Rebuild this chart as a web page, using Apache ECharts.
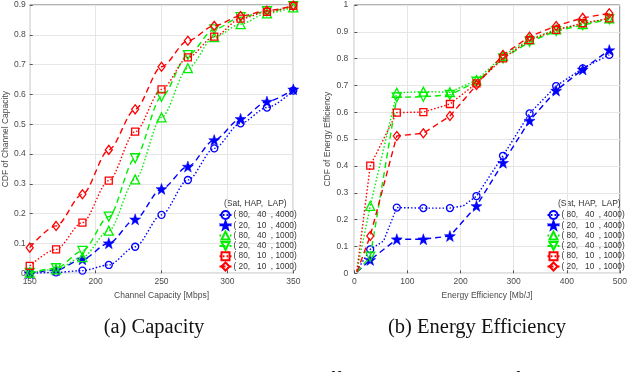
<!DOCTYPE html>
<html>
<head>
<meta charset="utf-8">
<script src="https://cdn.jsdelivr.net/npm/echarts@6/dist/echarts.min.js"></script>
<style>
html,body{margin:0;padding:0;background:#fff;}
#c{width:630px;height:372px;}
</style>
</head>
<body>
<div id="c"></div>
<script>
// ---------- data ----------
const legendNames = ['( 80,   40  , 4000)', '( 20,   10  , 4000)', '( 80,   40  , 1000)', '( 20,   40  , 1000)', '( 80,   10  , 1000)', '( 20,   10  , 1000)'];
const legendTitle = '(Sat, HAP,  LAP)';

// (a) Capacity
const capX = [150, 170, 190, 210, 230, 250, 270, 290, 310, 330, 350];
const capCircle  = [0.000, 0.003, 0.009, 0.028, 0.089, 0.196, 0.313, 0.419, 0.503, 0.556, 0.613];
const capStar    = [0.000, 0.011, 0.047, 0.101, 0.181, 0.283, 0.358, 0.447, 0.518, 0.576, 0.617];
const capTriUp   = [0.002, 0.013, 0.054, 0.143, 0.315, 0.523, 0.688, 0.792, 0.836, 0.872, 0.892];
const capTriDown = [0.001, 0.017, 0.075, 0.190, 0.386, 0.592, 0.732, 0.818, 0.859, 0.879, 0.896];
const capSquare  = [0.025, 0.080, 0.170, 0.311, 0.475, 0.617, 0.724, 0.794, 0.854, 0.877, 0.897];
const capDiamond = [0.086, 0.159, 0.265, 0.414, 0.550, 0.693, 0.780, 0.830, 0.863, 0.881, 0.898];

// (b) Energy efficiency
const eeMarkX   = [30, 80, 130, 180, 230, 280, 330, 380, 430, 480];
const eeX       = [5, 30, 80, 130, 180, 230, 280, 330, 380, 430, 480];
const eeCircleX = [5, 30, 55, 80, 130, 180, 205, 230, 280, 330, 380, 430, 480];
const eeCircle  = [0.010, 0.089, 0.120, 0.245, 0.243, 0.243, 0.251, 0.288, 0.438, 0.596, 0.698, 0.764, 0.814];
const eeStar    = [0.005, 0.050, 0.127, 0.127, 0.139, 0.251, 0.412, 0.569, 0.681, 0.760, 0.832];
const eeTriUp   = [0.010, 0.251, 0.673, 0.677, 0.675, 0.720, 0.810, 0.872, 0.909, 0.929, 0.950];
const eeTriDown = [0.005, 0.062, 0.656, 0.658, 0.665, 0.714, 0.801, 0.863, 0.903, 0.925, 0.947];
const eeSquare  = [0.010, 0.401, 0.599, 0.601, 0.631, 0.708, 0.801, 0.869, 0.907, 0.932, 0.950];
const eeDiamond = [0.005, 0.139, 0.512, 0.522, 0.586, 0.702, 0.814, 0.882, 0.922, 0.952, 0.969];

const capXTicks = {min: 150, max: 350, interval: 50};
const eeXTicks = {min: 0, max: 500, interval: 100};

// ---------- styles ----------
const BLUE = '#0000ff', GREEN = '#00ee00', RED = '#ff0000';
const STAR = 'path://M0,-10L2.35,-3.24L9.51,-3.09L3.8,1.24L5.88,8.09L0,4L-5.88,8.09L-3.8,1.24L-9.51,-3.09L-2.35,-3.24Z';
const DOT = [1.5, 2];
const DASH = [6, 4];
const styles = [
  {color: BLUE,  symbol: 'circle',   size: 7,  rotate: 0,   fill: false, dash: DOT},
  {color: BLUE,  symbol: STAR,       size: 11, rotate: 0,   fill: true,  dash: DASH},
  {color: GREEN, symbol: 'triangle', size: 9,  rotate: 0,   fill: false, dash: DOT},
  {color: GREEN, symbol: 'triangle', size: 9,  rotate: 180, fill: false, dash: DASH},
  {color: RED,   symbol: 'rect',     size: 7,  rotate: 0,   fill: false, dash: DOT},
  {color: RED,   symbol: 'diamond',  size: [7, 9], rotate: 0, fill: false, dash: DASH}
];

const FONT = 'Liberation Sans, Arial, sans-serif';
const TXT = '#4a4a4a';

function pairs(xs, ys) { return xs.map((x, i) => [x, ys[i]]); }

function mkSeries(i, idx, data, smooth, markXs) {
  const s = styles[i];
  return {
    type: 'line',
    name: legendNames[i],
    xAxisIndex: idx, yAxisIndex: idx,
    data: data,
    smooth: smooth,
    smoothMonotone: 'x',
    symbol: markXs ? (v => markXs.includes(v[0]) ? s.symbol : 'none') : s.symbol,
    symbolSize: s.size,
    symbolRotate: s.rotate,
    showAllSymbol: true,
    lineStyle: {color: s.color, width: 1.4, type: s.dash},
    itemStyle: {color: s.fill ? s.color : 'rgba(255,255,255,0)', borderColor: s.color, borderWidth: s.fill ? 0.5 : 1.3},
    emphasis: {disabled: true},
    animation: false,
    z: 3 + i
  };
}

const series = [];
const capSets = [capCircle, capStar, capTriUp, capTriDown, capSquare, capDiamond];
capSets.forEach((ys, i) => series.push(mkSeries(i, 0, pairs(capX, ys), 0.3, null)));
const eeSets = [pairs(eeCircleX, eeCircle), pairs(eeX, eeStar), pairs(eeX, eeTriUp), pairs(eeX, eeTriDown), pairs(eeX, eeSquare), pairs(eeX, eeDiamond)];
eeSets.forEach((d, i) => series.push(mkSeries(i, 1, d, false, eeMarkX)));

function xAx(idx, t, name) {
  return {
    type: 'value', gridIndex: idx, min: t.min, max: t.max, interval: t.interval,
    name: name, nameLocation: 'middle', nameGap: 15,
    nameTextStyle: {fontFamily: FONT, fontSize: 8.5, color: TXT},
    axisLine: {show: false},
    axisTick: {show: true, inside: true, length: 3, lineStyle: {color: '#555'}},
    axisLabel: {fontFamily: FONT, fontSize: 8.5, color: TXT, margin: 4},
    splitLine: {show: true, lineStyle: {color: '#e6e6e6', width: 1}}
  };
}
function yAx(idx, max, name, gap, margin) {
  return {
    type: 'value', gridIndex: idx, min: 0, max: max, interval: 0.1,
    name: name, nameLocation: 'middle', nameGap: gap,
    nameTextStyle: {fontFamily: FONT, fontSize: 8.5, color: TXT},
    axisLine: {show: false},
    axisTick: {show: true, inside: true, length: 3, lineStyle: {color: '#555'}},
    axisLabel: {fontFamily: FONT, fontSize: 8.5, color: TXT, margin: margin,
      formatter: v => (Math.round(v * 10) / 10).toString()},
    splitLine: {show: true, lineStyle: {color: '#e6e6e6', width: 1}}
  };
}

function legend(left) {
  return {
    show: true, orient: 'vertical', left: left, top: 210, padding: 0,
    itemWidth: 12, itemHeight: 10, itemGap: 0.3,
    data: legendNames,
    selectedMode: false,
    textStyle: {fontFamily: FONT, fontSize: 8.3, color: '#333', padding: [0, 0, 0, -3]},
    backgroundColor: 'transparent'
  };
}

const chart = echarts.init(document.getElementById('c'), null, {renderer: 'canvas'});
chart.setOption({
  backgroundColor: '#fff',
  animation: false,
  grid: [
    {left: 26.7, top: 5, width: 266.6, height: 268.3, show: true, borderColor: '#666', borderWidth: 1, backgroundColor: 'transparent'},
    {left: 354.3, top: 5, width: 268, height: 268.3, show: true, borderColor: '#666', borderWidth: 1, backgroundColor: 'transparent'}
  ],
  xAxis: [xAx(0, capXTicks, 'Channel Capacity [Mbps]'), xAx(1, eeXTicks, 'Energy Efficiency [Mb/J]')],
  yAxis: [yAx(0, 0.9, 'CDF of Channel Capacity', 17, 4), yAx(1, 1, 'CDF of Energy Efficiency', 16, 6)],
  legend: [legend(218.5), legend(546.5)],
  series: series,
  graphic: [
    {type: 'text', left: 224, top: 199, style: {text: legendTitle, font: '8.5px ' + FONT, fill: '#333'}},
    {type: 'text', left: 558, top: 199, style: {text: legendTitle, font: '8.5px ' + FONT, fill: '#333'}},
    {type: 'text', x: 154, y: 328, style: {text: '(a) Capacity', font: '20.5px "Liberation Serif", "Times New Roman", serif', fill: '#111', textAlign: 'center', textVerticalAlign: 'middle'}},
    {type: 'text', x: 477, y: 328, style: {text: '(b) Energy Efficiency', font: '20.5px "Liberation Serif", "Times New Roman", serif', fill: '#111', textAlign: 'center', textVerticalAlign: 'middle'}},
    {type: 'text', x: 33, y: 371, style: {text: 'Fig. 6:    Capacity    and    energy    efficiency    analysis    of', font: '20px "Liberation Serif", "Times New Roman", serif', fill: '#111', textAlign: 'left', textVerticalAlign: 'top'}}
  ]
});
</script>
</body>
</html>
